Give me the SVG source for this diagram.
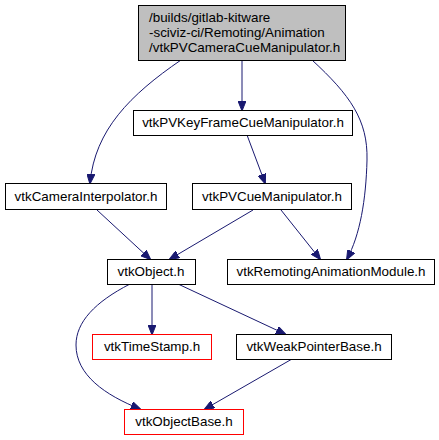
<svg xmlns="http://www.w3.org/2000/svg" width="439" height="440" viewBox="0 0 439 440">
<style>
text{font-family:"Liberation Sans",Arial,sans-serif;font-size:13.4px;fill:#000;text-anchor:middle}
.n{fill:#fff;stroke:#000;stroke-width:1}
.r{fill:#fff;stroke:#ff0000;stroke-width:1}
.e{fill:none;stroke:#191970;stroke-width:1}
</style>
<defs>
<marker id="a" markerWidth="10" markerHeight="8" refX="9" refY="4" orient="auto" markerUnits="userSpaceOnUse">
<path d="M0,0 L10,4 L0,8 Z" fill="#191970" stroke="#191970"/>
</marker>
</defs>
<rect width="439" height="440" fill="#fff"/>
<g id="edges">
<path class="e" marker-end="url(#a)" d="M242,60 L242,110"/>
<path class="e" marker-end="url(#a)" d="M181,60 C130,95 95,130 90,183"/>
<path class="e" marker-end="url(#a)" d="M312,60 C350,95 368,120 367,160 C366,200 360,235 347,259"/>
<path class="e" marker-end="url(#a)" d="M247,135 L265,183"/>
<path class="e" marker-end="url(#a)" d="M97,210 L150,259"/>
<path class="e" marker-end="url(#a)" d="M253,210 L170,259"/>
<path class="e" marker-end="url(#a)" d="M281,210 L320,259"/>
<path class="e" marker-end="url(#a)" d="M152,284 L152,334"/>
<path class="e" marker-end="url(#a)" d="M178,284 L285,334"/>
<path class="e" marker-end="url(#a)" d="M130,284 C95,302 76,322 76,345 C76,375 105,395 140,409"/>
<path class="e" marker-end="url(#a)" d="M292,359 L205,409"/>
</g>
<g id="root">
<rect x="138.5" y="5.5" width="207" height="55" fill="#bfbfbf" stroke="#000"/>
<text x="149" y="22" style="text-anchor:start">/builds/gitlab-kitware</text>
<text x="149" y="37" style="text-anchor:start">-sciviz-ci/Remoting/Animation</text>
<text x="149" y="52" style="text-anchor:start">/vtkPVCameraCueManipulator.h</text>
</g>
<g id="keyframe">
<rect class="n" x="133.5" y="110.5" width="219" height="25"/>
<text x="243" y="127">vtkPVKeyFrameCueManipulator.h</text>
</g>
<g id="camera">
<rect class="n" x="5.5" y="183.5" width="161" height="26"/>
<text x="86" y="201">vtkCameraInterpolator.h</text>
</g>
<g id="pvcue">
<rect class="n" x="192.5" y="183.5" width="159" height="26"/>
<text x="272" y="201">vtkPVCueManipulator.h</text>
</g>
<g id="object">
<rect class="n" x="107.5" y="259.5" width="88" height="25"/>
<text x="151" y="276">vtkObject.h</text>
</g>
<g id="remoting">
<rect class="n" x="227.5" y="259.5" width="207" height="25"/>
<text x="331" y="276">vtkRemotingAnimationModule.h</text>
</g>
<g id="timestamp">
<rect class="r" x="92.5" y="334.5" width="119" height="25"/>
<text x="152" y="351">vtkTimeStamp.h</text>
</g>
<g id="weak">
<rect class="n" x="236.5" y="334.5" width="155" height="25"/>
<text x="314" y="351">vtkWeakPointerBase.h</text>
</g>
<g id="objectbase">
<rect class="r" x="124.5" y="409.5" width="119" height="25"/>
<text x="184" y="426">vtkObjectBase.h</text>
</g>
</svg>
